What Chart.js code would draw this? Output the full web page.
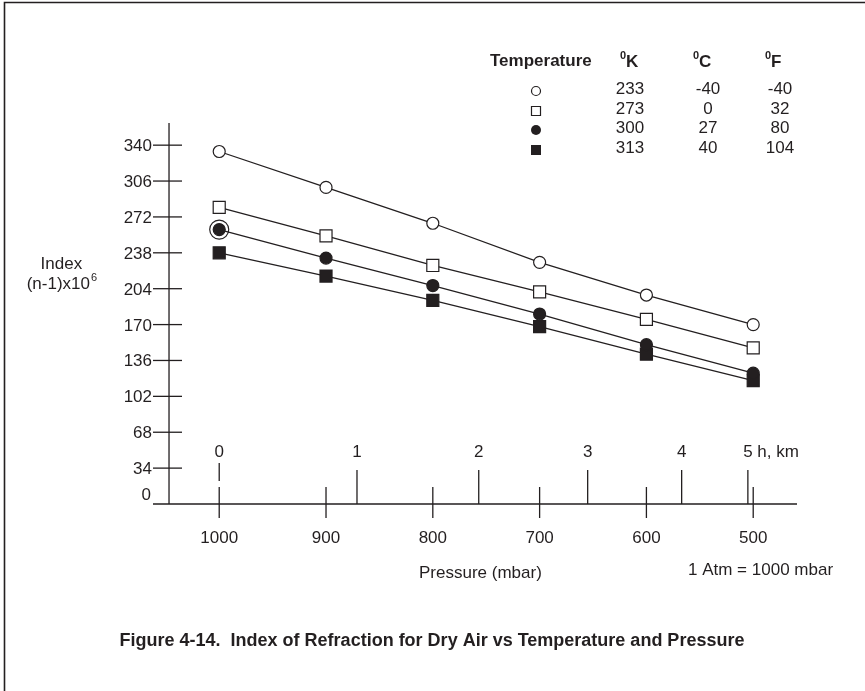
<!DOCTYPE html>
<html lang="en">
<head>
<meta charset="UTF-8">
<title>Index of Refraction for Dry Air</title>
<style>
  html, body { margin: 0; padding: 0; background: #fff; }
  #wrap { position: relative; width: 865px; height: 691px; }
</style>
</head>
<body>
<div id="wrap"><canvas id="chartRefraction" width="865" height="691"></canvas></div>

<script src="https://cdn.jsdelivr.net/npm/chart.js"></script>
<script>
// pressure (mbar) of each reading
var pressures = [1000, 900, 800, 700, 600, 500];

// index (n-1)x10^6 for each temperature
var k233 = [334, 300, 266, 229, 198, 170];
var k273 = [281, 254, 226, 201, 175, 148];
var k300 = [260, 233, 207, 180, 151, 124];
var k313 = [238, 216, 193, 168, 142, 117];

// axis ticks
var yTicks = [0, 34, 68, 102, 136, 170, 204, 238, 272, 306, 340];
var pressureTicks = [1000, 900, 800, 700, 600, 500];
var altitudeKm = [0, 1, 2, 3, 4, 5];
var altitudePressure = [1000, 871, 757, 655, 567, 505];

// legend table
var legendMarkers = ['openCircle', 'openSquare', 'dot', 'block'];
var tempK = ['233', '273', '300', '313'];
var tempC = ['-40', '0', '27', '40'];
var tempF = ['-40', '32', '80', '104'];

var INK = '#231f20';
var FONT = '"Liberation Sans", Arial, Helvetica, sans-serif';
var Y_AXIS_AT = 1047; // pressure where the vertical axis stands

function pts(vals) {
  return pressures.map(function (p, i) { return { x: p, y: vals[i] }; });
}

function marker(ctx, kind, x, y) {
  ctx.beginPath();
  if (kind === 'openCircle') {
    ctx.arc(x, y, 4.5, 0, Math.PI * 2);
    ctx.stroke();
  } else if (kind === 'openSquare') {
    ctx.rect(x - 4.5, y - 4.5, 9, 9);
    ctx.stroke();
  } else if (kind === 'dot') {
    ctx.arc(x, y, 5, 0, Math.PI * 2);
    ctx.fill();
  } else {
    ctx.rect(x - 5, y - 5, 10, 10);
    ctx.fill();
  }
}

var figurePlugin = {
  id: 'figure',
  beforeDatasetsDraw: function (chart) {
    var ctx = chart.ctx, xs = chart.scales.x, ys = chart.scales.y, a = chart.chartArea;
    var y0 = ys.getPixelForValue(0);
    var ax = xs.getPixelForValue(Y_AXIS_AT);
    ctx.save();
    ctx.strokeStyle = INK;
    ctx.fillStyle = INK;

    // page frame (top and left)
    ctx.lineWidth = 1.6;
    ctx.beginPath();
    ctx.moveTo(4.5, 691); ctx.lineTo(4.5, 2.5); ctx.lineTo(865, 2.5);
    ctx.stroke();

    // axes
    ctx.lineWidth = 1.3;
    ctx.beginPath();
    ctx.moveTo(ax, a.top); ctx.lineTo(ax, y0);
    ctx.moveTo(a.left, y0); ctx.lineTo(a.right, y0);
    ctx.stroke();

    // y ticks
    ctx.font = '17px ' + FONT;
    ctx.textAlign = 'right';
    ctx.textBaseline = 'alphabetic';
    yTicks.forEach(function (v) {
      var py = ys.getPixelForValue(v);
      if (v === 0) {
        ctx.fillText('0', a.left - 2, py - 4);
        return;
      }
      ctx.beginPath();
      ctx.moveTo(a.left, py); ctx.lineTo(ax + 13, py);
      ctx.stroke();
      ctx.fillText(String(v), a.left - 1, py + 6);
    });

    // pressure ticks
    ctx.textAlign = 'center';
    pressureTicks.forEach(function (p) {
      var px = xs.getPixelForValue(p);
      ctx.beginPath();
      ctx.moveTo(px, y0 - 17); ctx.lineTo(px, y0 + 14);
      ctx.stroke();
      ctx.fillText(String(p), px, y0 + 39);
    });

    // altitude ticks
    altitudeKm.forEach(function (km, i) {
      var px = xs.getPixelForValue(altitudePressure[i]);
      ctx.beginPath();
      if (km === 0) {
        ctx.moveTo(px, y0 - 41); ctx.lineTo(px, y0 - 23);
      } else {
        ctx.moveTo(px, y0 - 34); ctx.lineTo(px, y0);
      }
      ctx.stroke();
      var lbl = String(km);
      if (i === altitudeKm.length - 1) {
        ctx.textAlign = 'left';
        ctx.fillText(lbl + ' h, km', px - ctx.measureText(lbl).width / 2, y0 - 47);
        ctx.textAlign = 'center';
      } else {
        ctx.fillText(lbl, px, y0 - 47);
      }
    });
    ctx.restore();
  },
  afterDraw: function (chart) {
    var ctx = chart.ctx;
    ctx.save();
    ctx.fillStyle = INK;
    ctx.strokeStyle = INK;
    ctx.textBaseline = 'alphabetic';

    // y axis title, left of the tick labels
    ctx.font = '17px ' + FONT;
    var base = '(n-1)x10';
    var w = ctx.measureText(base).width;
    var right = 90;
    ctx.textAlign = 'center';
    ctx.fillText('Index', right - w / 2 + 3, 269);
    ctx.textAlign = 'left';
    ctx.fillText(base, right - w, 289);
    ctx.font = '11px ' + FONT;
    ctx.fillText('6', right + 1, 281);

    // x axis titles
    ctx.font = '17px ' + FONT;
    ctx.fillText('Pressure (mbar)', 419, 578);
    ctx.fillText('1 Atm = 1000 mbar', 688, 575);

    // legend table header
    ctx.font = 'bold 17px ' + FONT;
    ctx.fillText('Temperature', 490, 66);
    [['K', 620], ['C', 693], ['F', 765]].forEach(function (h) {
      ctx.font = 'bold 11px ' + FONT;
      ctx.fillText('0', h[1], 59);
      ctx.font = 'bold 17px ' + FONT;
      ctx.fillText(h[0], h[1] + 6, 67);
    });

    // legend rows
    var rowY = [88, 108, 127, 147];
    ctx.lineWidth = 1.2;
    ctx.font = '17px ' + FONT;
    ctx.textAlign = 'center';
    legendMarkers.forEach(function (m, i) {
      marker(ctx, m, 536, rowY[i] + 3);
      ctx.fillText(tempK[i], 630, rowY[i] + 6);
      ctx.fillText(tempC[i], 708, rowY[i] + 6);
      ctx.fillText(tempF[i], 780, rowY[i] + 6);
    });

    // caption
    ctx.font = 'bold 18px ' + FONT;
    ctx.fillText('Figure 4-14.  Index of Refraction for Dry Air vs Temperature and Pressure', 432, 646);
    ctx.restore();
  }
};

function series(vals, style, filled, radius) {
  return {
    data: pts(vals),
    showLine: true,
    borderColor: INK,
    borderWidth: 1.3,
    pointStyle: style,
    pointRadius: radius,
    pointHoverRadius: radius,
    pointBorderWidth: 1.2,
    pointBorderColor: INK,
    pointBackgroundColor: filled ? INK : '#fff'
  };
}

var ctxRefraction = document.getElementById('chartRefraction').getContext('2d');
var chartRefraction = new Chart(ctxRefraction, {
  type: 'scatter',
  data: {
    datasets: [
      series(k233, 'circle', false, 6),
      series(k273, 'rect', false, 8.5),
      series(k300, 'circle', true, 6),
      series(k313, 'rect', true, 8.5),
      {
        // ring drawn round the first 300 K reading
        data: [{ x: pressures[0], y: k300[0] }],
        showLine: false,
        pointStyle: 'circle',
        pointRadius: 9.5,
        pointBorderWidth: 1.2,
        pointBorderColor: INK,
        pointBackgroundColor: 'rgba(0,0,0,0)'
      }
    ]
  },
  options: {
    responsive: false,
    animation: false,
    events: [],
    layout: { padding: { left: 153, right: 68, top: 123, bottom: 187 } },
    plugins: { legend: { display: false }, tooltip: { enabled: false } },
    scales: {
      x: { type: 'linear', reverse: true, min: 459, max: 1062, display: false },
      y: { type: 'linear', min: 0, max: 361, display: false }
    }
  },
  plugins: [figurePlugin]
});
</script>
</body>
</html>
